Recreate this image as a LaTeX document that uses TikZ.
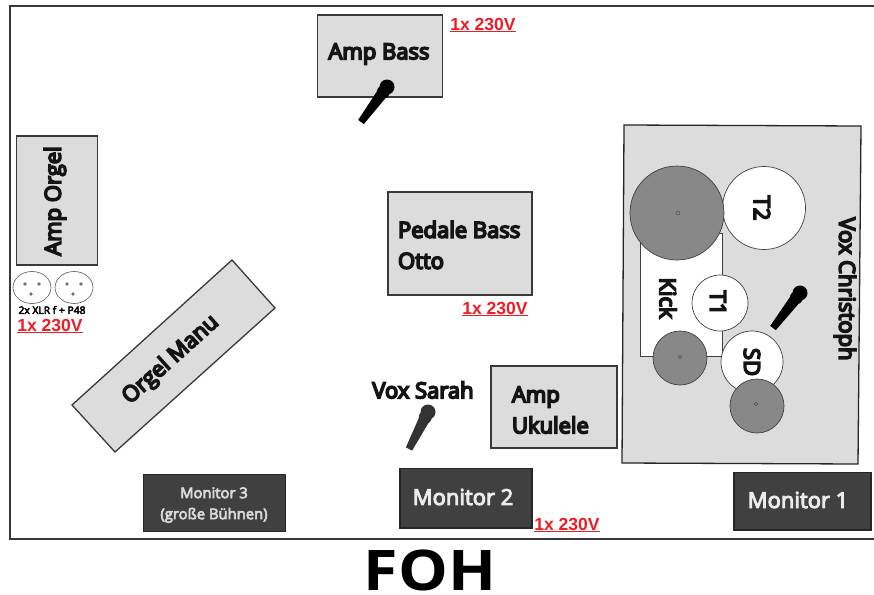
\documentclass[tikz,border=0pt]{standalone}
\usepackage{fontspec}
\setmainfont{Open Sans}
\newfontfamily\redfont{Liberation Sans}
\newfontfamily\semifont[FakeBold=7.5]{Open Sans}
\newfontfamily\lightsemi[FakeBold=4.5]{Open Sans}
\usetikzlibrary{calc}
\definecolor{boxgray}{HTML}{DCDCDC}
\definecolor{edge}{HTML}{3A3A3A}
\definecolor{mondark}{HTML}{404040}
\definecolor{cymgray}{HTML}{888888}
\definecolor{pwr}{HTML}{EE1C25}
\tikzset{
  x=1pt,y=-1pt,
  every node/.style={inner sep=0pt,outer sep=0pt,align=center},
  box/.style={draw=edge,fill=boxgray,line width=1.3pt},
  lbl/.style={font=\fontsize{22}{31}\selectfont\semifont,text=black!92},
  mon/.style={draw=black!85,fill=mondark,line width=1.2pt},
  monlbl/.style={font=\fontsize{22}{26}\selectfont\lightsemi,text=white!92!black},
  power/.style={font=\fontsize{17.5}{18}\selectfont\bfseries\redfont,text=pwr},
  shell/.style={draw=black!75,fill=white,line width=.7pt},
  cymbal/.style={draw=black!75,fill=cymgray,line width=.7pt},
  hole/.style={draw=black!70,line width=.5pt,fill=none},
  xlr/.style={draw=black!65,fill=white,line width=.6pt},
  pin/.style={fill=black!55},
}
\newcommand{\pwrtext}{\underline{1x 230V}}
\newcommand{\micro}[4][black]{%
  \coordinate (#2h) at #3; \coordinate (#2t) at #4;
  \fill[#1] ($(#2t)!3.5pt!90:(#2h)$) -- ($(#2t)!3.5pt!-90:(#2h)$) -- ($(#2h)!6pt!90:(#2t)$) -- ($(#2h)!6pt!-90:(#2t)$) -- cycle;
  \fill[#1] (#2h) circle (7.5pt);
  \fill[#1] ($(#2h)!6pt!(#2t)$) circle (6.5pt);
}
\newcommand{\powerlbl}[2]{\node[power] (#1) at #2 {\pwrtext};}
\begin{document}
\begin{tikzpicture}
\useasboundingbox (0,0) rectangle (874,594);
\fill[white] (0,0) rectangle (874,594);
\draw[draw=black!78,line width=1.5pt] (874,6) -- (10,6) -- (10,539) -- (874,539);

% Amp Bass
\node[box,minimum width=125pt,minimum height=82pt] (ampbass) at (380,56) {};
\node[lbl] (ampbasst) at (379,54) {Amp Bass};
\micro{bassmic}{(387,87)}{(361,122)}
\powerlbl{pbass}{(483,25)}

% Amp Orgel + XLR
\node[box,minimum width=81pt,minimum height=129pt] (amporgel) at (57,200.5) {};
\node[lbl,rotate=90] (amporgelt) at (55,201) {Amp Orgel};
\draw[xlr] (32,287.5) ellipse (19pt and 16pt);
\draw[xlr] (74,287.5) ellipse (19pt and 16pt);
\foreach \p in {(25,284),(39,284),(31,294),(67,284),(81,284),(73,294)}
  \fill[pin] \p circle (1.8pt);
\node[font=\fontsize{10.3}{12}\selectfont\lightsemi] (xlrt) at (52,310) {2x XLR f + P48};
\powerlbl{porgel}{(50,326)}

% Orgel Manu
\draw[box] (232,260) -- (275,308) -- (115,452) -- (72,405) -- cycle;
\node[lbl,rotate=42] (orgelmanu) at (171,360) {Orgel Manu};

% Pedale Bass
\node[box,minimum width=144pt,minimum height=103pt] (pedal) at (460,243.5) {};
\node[lbl,align=left,anchor=west] (pedalt) at (398,245) {Pedale Bass\\Otto};
\powerlbl{ppedal}{(495,309)}

% Amp Ukulele
\node[box,minimum width=126pt,minimum height=82pt] (ukulele) at (554,407) {};
\node[lbl,align=left,anchor=west] (ukulelet) at (512,410) {Amp\\Ukulele};

% Vox Sarah
\node[lbl] (sarah) at (423,390) {Vox Sarah};
\micro[black!80]{sarahmic}{(428,412)}{(409,449)}

% Monitors
\node[mon,minimum width=142pt,minimum height=57pt] (mon3) at (214.5,503) {};
\node[font=\fontsize{14.8}{21}\selectfont\lightsemi,text=white!85!black] (mon3t) at (214,505) {Monitor 3\\(große Bühnen)};
\node[mon,minimum width=132pt,minimum height=59.5pt] (mon2) at (466,498.2) {};
\node[monlbl] (mon2t) at (463,497) {Monitor 2};
\powerlbl{pmon}{(567,525)}
\node[mon,minimum width=137pt,minimum height=57.5pt] (mon1) at (802.5,501.2) {};
\node[monlbl] (mon1t) at (798,500) {Monitor 1};

% FOH
\node[font=\fontsize{56}{60}\selectfont\bfseries,xscale=1.12] (foh) at (430,570.5) {FOH};

% Drum riser
\draw[box,draw=black!85] (624,125) -- (861,126) -- (858,464) -- (622,463) -- cycle;
\node[lbl,rotate=-90] (christoph) at (845,289) {Vox Christoph};
\draw[shell] (640,233) rectangle (722,356);
\node[lbl,rotate=-90] (kick) at (668,298) {Kick};
\draw[shell] (764,208) circle (41.5pt);
\node[lbl,rotate=-90] (t2) at (762,208) {T2};
\draw[cymbal] (677,213) circle (47pt);
\draw[hole] (678,213) circle (2pt);
\draw[shell] (720,303) circle (28pt);
\node[lbl,rotate=-90] (t1) at (718,303) {T1};
\draw[cymbal] (680,358) circle (27pt);
\draw[hole] (680,357) circle (1.7pt);
\draw[shell] (752,362) circle (31pt);
\node[lbl,rotate=-90] (sd) at (752,362) {SD};
\draw[cymbal] (757,406) circle (27pt);
\draw[hole] (756,404) circle (1.7pt);
\micro{drummic}{(800,293)}{(773,328)}
\end{tikzpicture}
\end{document}
